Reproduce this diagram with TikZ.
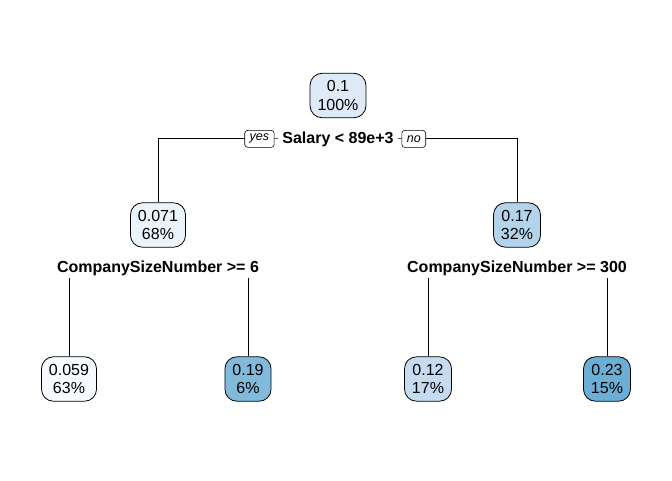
\documentclass[tikz,border=0pt]{standalone}
\usepackage{fontspec}
\setmainfont{Liberation Sans}
\usetikzlibrary{positioning, backgrounds}
\definecolor{blu1}{HTML}{F7FBFF}
\definecolor{blu2}{HTML}{EBF3FB}
\definecolor{blu3}{HTML}{DEEBF7}
\definecolor{blu4}{HTML}{C6DBEF}
\definecolor{blu5}{HTML}{B3D3EA}
\definecolor{blu6}{HTML}{82BADB}
\definecolor{blu7}{HTML}{6BAED6}

\begin{document}
\begin{tikzpicture}[
      x=1pt, y=-1pt,
      every node/.style={font=\fontsize{16}{18.3}\selectfont},
      box/.style={draw, rounded corners=12pt, inner xsep=7.5pt, inner ysep=7.4pt,
                  align=center, line width=0.8pt},
      splitlab/.style={fill=white, inner xsep=4pt, inner ysep=2.3pt, anchor=base,
                       font=\fontsize{16}{18.3}\selectfont\bfseries},
      yesno/.style={draw, rounded corners=3pt, fill=white, inner xsep=5pt,
                    minimum height=17pt, line width=0.6pt,
                    font=\fontsize{12.5}{14}\selectfont\itshape},
      line width=0.8pt,
    ]
    \useasboundingbox (0,0) rectangle (672,480);
    % Level 0
    \node[box, fill=blu3] (n1) at (338,95.5) {0.1\\100\%};
    \coordinate (s1) at (338,138);
    \node[splitlab] (lab1) at (338,143) {Salary < 89e+3};
    \node[yesno, left=3.5pt of lab1] (yes) {yes};
    \node[yesno, right=3.5pt of lab1] (no) {no};
    % Level 1
    \node[box, fill=blu2] (n2) at (158,225) {0.071\\68\%};
    \node[box, fill=blu5] (n3) at (517,225) {0.17\\32\%};
    \coordinate (s2) at (158,268);
    \coordinate (s3) at (517,268);
    \node[splitlab] (lab2) at (158,272.5) {CompanySizeNumber >= 6};
    \node[splitlab] (lab3) at (517,272.5) {CompanySizeNumber >= 300};
    % Leaves
    \node[box, fill=blu1] (n4) at (69,379)  {0.059\\63\%};
    \node[box, fill=blu6] (n5) at (248,379) {0.19\\6\%};
    \node[box, fill=blu4] (n6) at (428,379) {0.12\\17\%};
    \node[box, fill=blu7] (n7) at (607,379) {0.23\\15\%};

    \begin{scope}[on background layer]
      \draw (n2.north) |- (s1) -| (n3.north);
      \draw (n4.north) |- (s2) -| (n5.north);
      \draw (n6.north) |- (s3) -| (n7.north);
    \end{scope}
  \end{tikzpicture}
\end{document}
